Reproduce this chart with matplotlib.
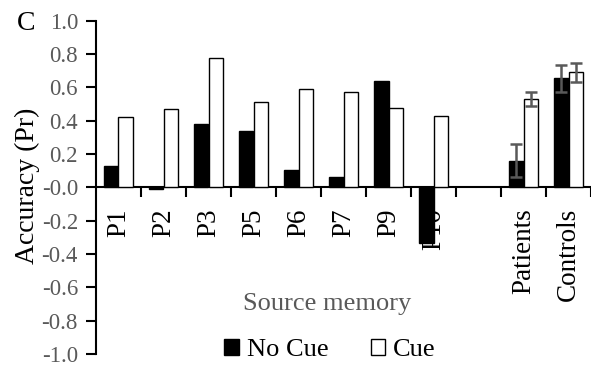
import numpy as np
import matplotlib
matplotlib.use("Agg")
import matplotlib.pyplot as plt
from matplotlib.patches import Patch

plt.rcParams['font.family'] = ['Liberation Serif', 'DejaVu Serif']
plt.rcParams['axes.unicode_minus'] = False

groups = ['P1', 'P2', 'P3', 'P5', 'P6', 'P7', 'P9', 'P10', '', 'Patients', 'Controls']
no_cue = [0.13, -0.01, 0.38, 0.34, 0.105, 0.065, 0.64, -0.335, np.nan, 0.16, 0.655]
cue = [0.42, 0.47, 0.775, 0.51, 0.59, 0.57, 0.475, 0.43, np.nan, 0.53, 0.69]
no_cue_err = [np.nan] * 9 + [0.10, 0.08]
cue_err = [np.nan] * 9 + [0.04, 0.055]

grey = '#595959'

fig = plt.figure(figsize=(5.91, 3.67), dpi=100)
ax = fig.add_axes([96 / 591, 13 / 367, 495 / 591, 333.3 / 367])

x = np.arange(len(groups))
w = 0.33
ax.bar(x - w / 2, no_cue, w, color='black', edgecolor='black', linewidth=1, zorder=3)
ax.bar(x + w / 2, cue, w, color='white', edgecolor='black', linewidth=1, zorder=3)
ax.errorbar(x - w / 2, no_cue, yerr=no_cue_err, fmt='none', ecolor=grey,
            elinewidth=1.8, capsize=4.5, capthick=1.8, zorder=4)
ax.errorbar(x + w / 2, cue, yerr=cue_err, fmt='none', ecolor=grey,
            elinewidth=1.8, capsize=4.5, capthick=1.8, zorder=4)

ax.set_xlim(-0.5, len(groups) - 0.5)
ax.set_ylim(-1.0, 1.0)
yt = np.arange(-1.0, 1.01, 0.2)
ax.set_yticks(yt)
ax.set_yticklabels([f'{v:.1f}' for v in yt])
ax.tick_params(axis='y', direction='out', length=7, width=1.5, colors='black',
               labelcolor=grey, labelsize=16.5, pad=6)

# category labels sit on major ticks, tick marks go between groups
ax.set_xticks(x)
ax.set_xticks(np.arange(0.5, len(groups), 1.0), minor=True)
ax.tick_params(axis='x', which='major', length=0, labelsize=19.5, pad=15,
               labelrotation=90)
ax.tick_params(axis='x', which='minor', direction='out', length=7, width=1.5)
ax.set_xticklabels(groups)
for lab in ax.get_xticklabels():
    lab.set_verticalalignment('top')
    lab.set_horizontalalignment('center')

for s in ['top', 'right']:
    ax.spines[s].set_visible(False)
ax.spines['bottom'].set_position(('data', 0))
ax.spines['left'].set_linewidth(1.5)
ax.spines['bottom'].set_linewidth(1.5)

fig.text(27 / 591, 1 - 186 / 367, 'Accuracy (Pr)', rotation=90, ha='center',
         va='center', fontsize=20)
fig.text(26 / 591, 1 - 24 / 367, 'C', ha='center', va='center', fontsize=20)
fig.text(327 / 591, 1 - 304 / 367, 'Source memory', ha='center', va='center',
         fontsize=19, color=grey)

handles = [Patch(facecolor='black', edgecolor='black', label='No Cue'),
           Patch(facecolor='white', edgecolor='black', label='Cue')]
fig.legend(handles=handles, loc='center', bbox_to_anchor=(330 / 591, 1 - 350 / 367),
           ncol=2, frameon=False, fontsize=19, handlelength=0.55, handleheight=0.55,
           handletextpad=0.3, columnspacing=1.6, borderpad=0)

fig.savefig('out.png', dpi=100)
